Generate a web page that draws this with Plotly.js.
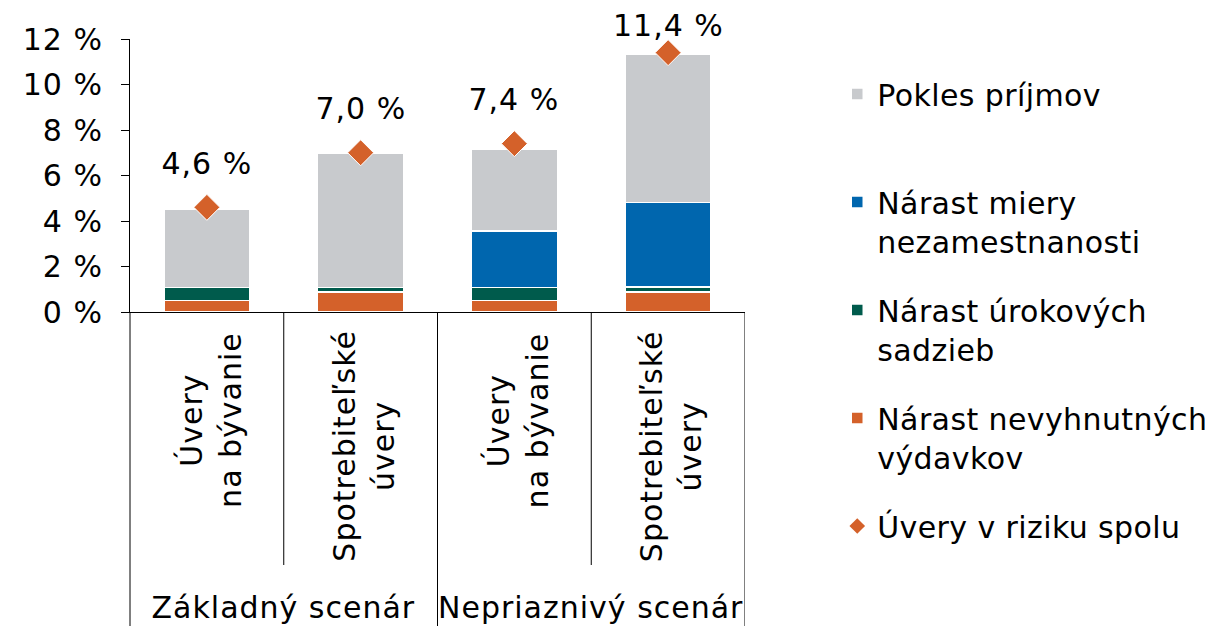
<!DOCTYPE html>
<html>
<head>
<meta charset="utf-8">
<script src="https://cdn.plot.ly/plotly-3.0.1.min.js"></script>
<style>
html,body{margin:0;padding:0;background:#fff;}
#chart{width:1222px;height:626px;}
#chart text{letter-spacing:1px;}
#chart .legend text{letter-spacing:0.4px;}
</style>
</head>
<body>
<div id="chart"></div>
<script>
// ---- data ----
const categories = ["Úvery<br>na bývanie", "Spotrebiteľské<br>úvery", "Úvery<br>na bývanie", "Spotrebiteľské<br>úvery"];
const groups = ["Základný scenár", "Nepriaznivý scenár"];
const expenses = [0.50, 0.89, 0.50, 0.87];      // Nárast nevyhnutných výdavkov
const rates = [0.57, 0.18, 0.57, 0.23];         // Nárast úrokových sadzieb
const unemployment = [0.00, 0.00, 2.50, 3.72];  // Nárast miery nezamestnanosti
const income = [3.46, 5.90, 3.58, 6.52];        // Pokles príjmov
const total = [4.6, 7.0, 7.4, 11.4];            // Úvery v riziku spolu
const yTicks = [0, 2, 4, 6, 8, 10, 12];

const xs = categories.map((c, i) => i);
const font = "DejaVu Sans, Verdana, sans-serif";
const fs = 30;
const barLine = {color: "#ffffff", width: 1.5};
const diamondColor = "#D4612A";

const W = 1222, H = 626;
const M = {l: 130, r: 477, t: 39, b: 10};
const areaH = H - M.t - M.b;           // full plotting area (paper) height
const axisBottomPx = 312;              // pixel row of the 0 % line
const yMax = 12;
const py = px => (H - M.b - px) / areaH;   // pixel row -> paper fraction
const domainBottom = py(axisBottomPx);
const axisH = axisBottomPx - M.t;

function barTrace(name, y, color, rank) {
  return {type: "bar", x: xs, y: y, name: name, width: 0.56,
    marker: {color: color, line: barLine}, legendgroup: name, legendrank: rank,
    hoverinfo: "y"};
}

const traces = [
  barTrace("Nárast nevyhnutných<br>výdavkov", expenses, "#D4612A", 4),
  barTrace("Nárast úrokových<br>sadzieb", rates, "#005B4C", 3),
  barTrace("Nárast miery<br>nezamestnanosti", unemployment, "#0066AE", 2),
  barTrace("Pokles príjmov<br> ", income, "#C8CACD", 1),
  {type: "scatter", mode: "markers", x: xs, y: total, name: "Úvery v riziku spolu",
   marker: {symbol: "diamond", size: 20, color: diamondColor, line: {color: "#ffffff", width: 1}},
   showlegend: false, cliponaxis: false},
  // legend-only entry with a smaller diamond symbol (no data points)
  {type: "scatter", mode: "markers", x: [null], y: [null], name: "Úvery v riziku spolu<br> ",
   marker: {symbol: "diamond", size: 12, color: diamondColor},
   legendgroup: "total", legendrank: 5, hoverinfo: "skip"}
];

const annotations = [];
total.forEach((v, i) => {
  // keep labels inside the picture: label centre never above ~25 px
  const markerPx = M.t + (yMax - v) / yMax * axisH;
  const shift = Math.min(44, markerPx - 25);
  annotations.push({x: i, y: v, xref: "x", yref: "y", text: v.toFixed(1).replace(".", ",") + " %",
    showarrow: false, yshift: shift, yanchor: "middle", font: {family: font, size: fs, color: "#000"}});
});
categories.forEach((c, i) => {
  annotations.push({x: i, y: py(335), xref: "x", yref: "paper", text: c, textangle: -90,
    showarrow: false, xanchor: "center", yanchor: "top", align: "center", xshift: 3,
    font: {family: font, size: fs, color: "#000"}});
});
groups.forEach((g, j) => {
  annotations.push({x: j * 2 + 0.5, y: py(607), xref: "x", yref: "paper", text: g,
    showarrow: false, xanchor: "center", yanchor: "middle",
    font: {family: font, size: fs, color: "#000"}});
});

const lineStyle = {color: "#000", width: 1};
const bottom = py(H), shortEnd = py(565);
const shapes = [
  {type: "line", xref: "paper", yref: "paper", x0: 0, x1: 0, y0: domainBottom, y1: bottom, line: lineStyle},
  {type: "line", xref: "x", yref: "paper", x0: 0.5, x1: 0.5, y0: domainBottom, y1: shortEnd, line: lineStyle},
  {type: "line", xref: "x", yref: "paper", x0: 1.5, x1: 1.5, y0: domainBottom, y1: bottom, line: lineStyle},
  {type: "line", xref: "x", yref: "paper", x0: 2.5, x1: 2.5, y0: domainBottom, y1: shortEnd, line: lineStyle},
  {type: "line", xref: "x", yref: "paper", x0: 3.5, x1: 3.5, y0: domainBottom, y1: bottom, line: lineStyle}
];

const layout = {
  width: W, height: H,
  margin: {l: M.l, r: M.r, t: M.t, b: M.b, pad: 0},
  paper_bgcolor: "#fff", plot_bgcolor: "#fff",
  barmode: "stack",
  showlegend: true,
  font: {family: font, size: fs, color: "#000"},
  xaxis: {range: [-0.5, 3.5], showticklabels: false, ticks: "", showgrid: false, zeroline: false,
    showline: true, linecolor: "#000", linewidth: 1, fixedrange: true, anchor: "y"},
  yaxis: {domain: [domainBottom, 1], range: [0, yMax], tickvals: yTicks, ticktext: yTicks.map(v => v + " %"),
    ticks: "outside", ticklen: 8, tickcolor: "#000", showgrid: false, zeroline: false,
    showline: true, linecolor: "#000", linewidth: 1, ticklabelstandoff: 12,
    tickfont: {family: font, size: fs, color: "#000"}},
  legend: {x: 1.15, xanchor: "left", y: py(68), yanchor: "top", traceorder: "grouped",
    tracegroupgap: 27, valign: "top", font: {family: font, size: fs, color: "#000"},
    bgcolor: "rgba(0,0,0,0)"},
  annotations: annotations,
  shapes: shapes
};

Plotly.newPlot("chart", traces, layout, {displayModeBar: false, staticPlot: true});
</script>
</body>
</html>
